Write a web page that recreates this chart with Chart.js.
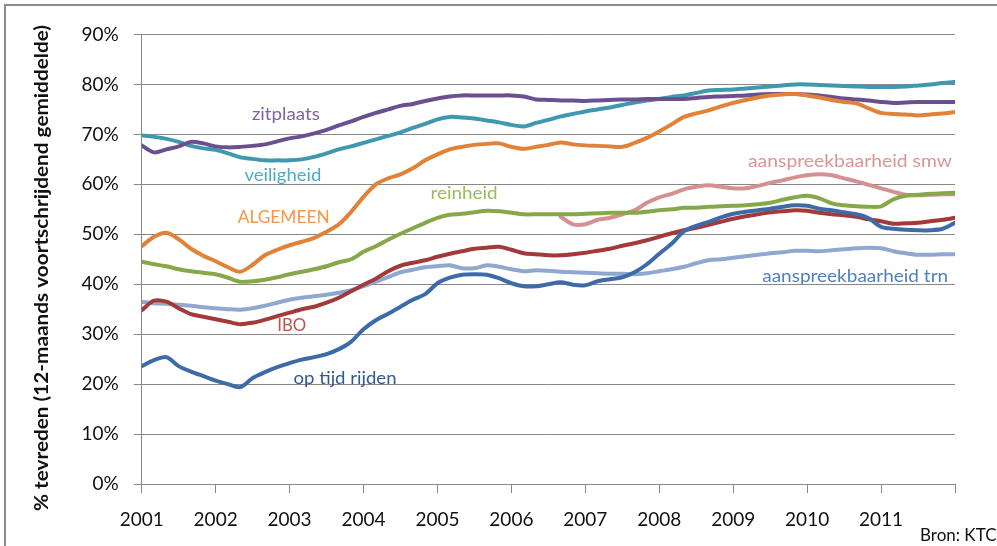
<!DOCTYPE html>
<html><head><meta charset="utf-8">
<script src="https://cdn.jsdelivr.net/npm/chart.js@4/dist/chart.umd.min.js"></script>
<style>html,body{margin:0;padding:0;background:#fff}#wrap{width:997px;height:546px;position:relative;overflow:hidden}</style>
</head><body><div id="wrap"><canvas id="c" width="997" height="546"></canvas></div>
<script>
// ---- data (two-monthly readings, Jan 2001 .. Jan 2012) ----
const startYear = 2001;
const readingsPerYear = 6;
const yearTicks = ['2001','2002','2003','2004','2005','2006','2007','2008','2009','2010','2011'];
const pctTicks = ['0%','10%','20%','30%','40%','50%','60%','70%','80%','90%'];

const zitplaats = [67.8,66.4,67.0,67.6,68.5,68.2,67.6,67.4,67.5,67.7,
  68.0,68.6,69.2,69.6,70.2,70.9,71.8,72.6,73.5,74.3,
  75.0,75.7,76.1,76.7,77.2,77.6,77.8,77.8,77.8,77.8,
  77.8,77.6,77.0,76.9,76.8,76.8,76.7,76.8,76.9,77.0,
  77.0,77.1,77.1,77.1,77.1,77.3,77.5,77.6,77.7,77.8,
  78.0,78.1,78.1,78.1,78.0,77.8,77.5,77.2,77.0,76.8,
  76.5,76.3,76.4,76.5,76.5,76.5,76.5];
const veiligheid = [69.8,69.5,69.1,68.5,67.7,67.2,66.9,66.2,65.4,65.1,
  64.8,64.8,64.8,65.0,65.5,66.2,67.0,67.6,68.3,69.0,
  69.7,70.4,71.3,72.1,73.0,73.5,73.4,73.2,72.8,72.4,
  71.9,71.6,72.3,72.9,73.6,74.1,74.6,75.0,75.4,75.9,
  76.4,76.8,77.1,77.5,77.8,78.3,78.8,78.9,79.0,79.2,
  79.4,79.6,79.8,80.0,80.0,79.9,79.8,79.7,79.6,79.5,
  79.5,79.5,79.6,79.8,80.0,80.3,80.5];
const algemeen = [47.6,49.5,50.3,49.0,47.1,45.7,44.6,43.4,42.5,43.9,
  45.8,46.9,47.8,48.5,49.3,50.5,52.0,54.5,57.5,60.0,
  61.2,62.0,63.2,64.8,66.0,67.0,67.5,67.9,68.1,68.2,
  67.5,67.1,67.5,67.9,68.4,68.0,67.8,67.7,67.6,67.5,
  68.3,69.3,70.6,72.0,73.5,74.2,74.8,75.6,76.3,76.9,
  77.4,77.8,78.0,78.1,77.8,77.4,76.9,76.5,76.2,75.2,
  74.3,74.1,74.0,73.8,74.0,74.2,74.5];
const reinheid = [44.5,44.0,43.6,43.0,42.6,42.3,42.0,41.3,40.5,40.6,
  40.9,41.4,42.0,42.5,43.0,43.6,44.4,45.0,46.5,47.6,
  48.9,50.1,51.2,52.3,53.3,53.9,54.1,54.4,54.7,54.6,
  54.3,54.0,54.0,54.0,54.0,54.0,54.1,54.2,54.3,54.3,
  54.3,54.5,54.8,55.0,55.3,55.3,55.5,55.6,55.7,55.8,
  56.0,56.3,56.9,57.4,57.7,57.2,56.2,55.8,55.6,55.5,
  55.6,57.0,57.7,57.9,58.1,58.2,58.3];
const aanspreekbaarheidSmw = [null,null,null,null,null,null,null,null,null,null,
  null,null,null,null,null,null,null,null,null,null,
  null,null,null,null,null,null,null,null,null,null,
  null,null,null,null,53.5,52.0,52.0,52.9,53.3,54.0,
  54.8,56.3,57.4,58.1,59.0,59.5,59.8,59.5,59.2,59.2,
  59.7,60.3,60.8,61.4,61.8,62.0,61.8,61.2,60.6,59.9,
  59.2,58.5,57.9,57.8,57.9,58.0,58.0];
const ibo = [34.8,36.7,36.5,35.2,34.0,33.5,33.0,32.5,32.0,32.3,
  32.9,33.6,34.3,35.0,35.5,36.3,37.3,38.6,39.9,41.1,
  42.6,43.7,44.3,44.8,45.5,46.1,46.6,47.1,47.3,47.5,
  46.9,46.2,46.0,45.8,45.8,46.0,46.3,46.7,47.1,47.7,
  48.2,48.8,49.5,50.2,50.8,51.3,51.9,52.5,53.1,53.6,
  54.0,54.4,54.6,54.8,54.7,54.3,54.0,53.8,53.5,53.0,
  52.6,52.1,52.2,52.3,52.6,52.9,53.3];
const aanspreekbaarheidTrn = [36.5,36.2,36.1,35.9,35.7,35.4,35.2,35.0,34.9,35.2,
  35.7,36.3,36.9,37.3,37.6,37.9,38.3,38.8,39.6,40.5,
  41.4,42.4,42.9,43.4,43.6,43.8,43.2,43.2,43.8,43.5,
  43.0,42.6,42.8,42.7,42.5,42.4,42.3,42.2,42.1,42.1,
  42.0,42.2,42.6,43.0,43.5,44.2,44.8,45.0,45.3,45.6,
  45.9,46.2,46.4,46.7,46.7,46.6,46.8,47.0,47.2,47.3,
  47.2,46.6,46.2,45.9,45.9,46.0,46.0];
const opTijdRijden = [23.6,24.8,25.4,23.6,22.5,21.6,20.7,20.0,19.4,21.2,
  22.4,23.4,24.2,24.9,25.4,26.0,27.0,28.5,31.0,32.8,
  34.1,35.5,36.9,38.0,40.2,41.3,41.9,42.0,41.9,41.2,
  40.2,39.6,39.6,40.0,40.4,39.9,39.8,40.6,41.0,41.4,
  42.4,44.0,46.1,48.1,50.6,51.7,52.5,53.4,54.1,54.5,
  54.8,55.1,55.5,55.8,55.7,55.1,54.8,54.4,54.0,53.2,
  51.5,51.1,50.9,50.8,50.8,51.1,52.3];

// ---- styling (kept apart from the data) ----
const series = [
  {name:'ALGEMEEN', data:algemeen, color:'#E08237', label:'#F79646', at:[2002.92,53.4], w:92},
  {name:'op tijd rijden', data:opTijdRijden, color:'#3D6BA8', label:'#2F5B8F', at:[2003.75,21.2], w:103},
  {name:'IBO', data:ibo, color:'#A33A39', label:'#C0504D', at:[2003.03,31.8], w:29},
  {name:'aanspreekbaarheid trn', data:aanspreekbaarheidTrn, color:'#8EA8D0', label:'#4F81BD', at:[2010.65,41.6], w:186},
  {name:'reinheid', data:reinheid, color:'#86A848', label:'#9BBB59', at:[2005.36,58.2], w:67},
  {name:'aanspreekbaarheid smw', data:aanspreekbaarheidSmw, color:'#D59191', label:'#DA9694', at:[2010.58,64.6], w:204},
  {name:'zitplaats', data:zitplaats, color:'#6B5090', label:'#8064A2', at:[2002.95,74.0], w:68},
  {name:'veiligheid', data:veiligheid, color:'#4098AF', label:'#4BACC6', at:[2002.91,61.8], w:77}
];
const FONT = 'Lato, "Open Sans", sans-serif';

function fitText(ctx, text, cx, cy, w, font, color){
  ctx.save();
  ctx.font = font; ctx.fillStyle = color; ctx.textAlign='center'; ctx.textBaseline='middle';
  const m = ctx.measureText(text).width;
  ctx.translate(cx, cy); ctx.scale(w/m, 1);
  ctx.fillText(text, 0, 0);
  ctx.restore();
}

const overlay = {
  id:'overlay',
  beforeDraw(chart){
    const c = chart.ctx; c.save();
    c.strokeStyle='#8c8c8c'; c.lineWidth=2;
    c.strokeRect(5,5,1400,1400);
    c.restore();
  },
  afterDatasetsDraw(chart){
    const c = chart.ctx, xs = chart.scales.x, ys = chart.scales.y;
    series.forEach(s=>{
      fitText(c, s.name, xs.getPixelForValue(s.at[0]), ys.getPixelForValue(s.at[1]), s.w, '17px '+FONT, s.label);
    });
  },
  afterDraw(chart){
    const c = chart.ctx;
    c.save(); c.translate(42,268); c.rotate(-Math.PI/2);
    fitText(c, '% tevreden (12-maands voortschrijdend gemiddelde)', 0, 0, 486, 'bold 18px '+FONT, '#111');
    c.restore();
    c.save(); c.font='17px '+FONT; c.fillStyle='#111'; c.textAlign='left'; c.textBaseline='middle';
    c.fillText('Bron: KTC', 920, 536); c.restore();
  }
};

new Chart(document.getElementById('c'), {
  type:'line',
  data:{
    datasets: series.map(s=>({
      label:s.name,
      data:s.data.map((v,i)=>({x:startYear + i/readingsPerYear, y:v})),
      borderColor:s.color, backgroundColor:s.color
    }))
  },
  options:{
    responsive:false, animation:false, parsing:false, normalized:true,
    layout:{padding:{left:0,right:42,top:34.5,bottom:0}},
    plugins:{legend:{display:false}, tooltip:{enabled:false}},
    elements:{point:{radius:0}, line:{borderWidth:4, tension:0.3, borderCapStyle:'round', borderJoinStyle:'round'}},
    scales:{
      x:{type:'linear', min:2001, max:2012,
        ticks:{stepSize:1, autoSkip:false, maxRotation:0, padding:15, color:'#111',
          font:{family:FONT, size:19},
          callback:(v)=> yearTicks[Math.round(v-startYear)] ?? ''},
        grid:{drawOnChartArea:false, drawTicks:true, tickLength:9, color:'#888'},
        border:{color:'#888', width:1},
        afterFit:(s)=>{ s.height = 62; }
      },
      y:{min:0, max:90,
        ticks:{stepSize:10, padding:15, color:'#111', font:{family:FONT, size:19},
          callback:(v)=> pctTicks[Math.round(v/10)]},
        grid:{color:'#888', tickLength:8},
        border:{color:'#888', width:1},
        afterFit:(s)=>{ s.width = 141.7; }
      }
    }
  },
  plugins:[overlay]
});
</script></body></html>
